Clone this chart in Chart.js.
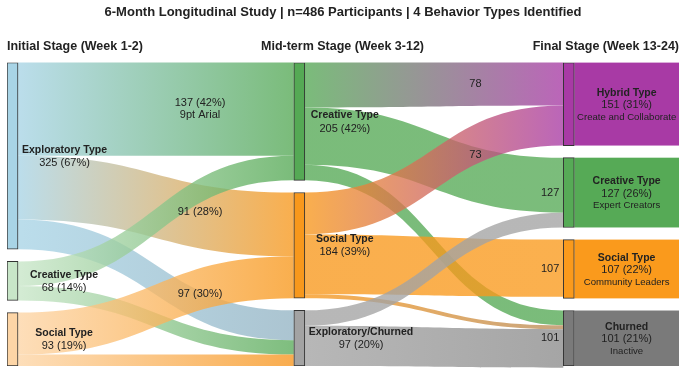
<!DOCTYPE html>
<html>
<head>
<meta charset="utf-8">
<script src="https://cdn.jsdelivr.net/npm/chart.js@4.4.0/dist/chart.umd.min.js"></script>
<style>
  html, body { margin: 0; padding: 0; background: #fff; }
</style>
</head>
<body>
<canvas id="sankey" width="685" height="373"></canvas>
<script>
const FONT = "'Liberation Sans', Arial, Helvetica, sans-serif";

// ---- data ----
const chartTitle = '6-Month Longitudinal Study | n=486 Participants | 4 Behavior Types Identified';
const stageNames = ['Initial Stage (Week 1-2)', 'Mid-term Stage (Week 3-12)', 'Final Stage (Week 13-24)'];

const initialTypes = ['Exploratory Type', 'Creative Type', 'Social Type'];
const initialCounts = [325, 68, 93];
const initialShares = ['67%', '14%', '19%'];

const midTypes = ['Creative Type', 'Social Type', 'Exploratory/Churned'];
const midCounts = [205, 184, 97];
const midShares = ['42%', '39%', '20%'];

const finalTypes = ['Hybrid Type', 'Creative Type', 'Social Type', 'Churned'];
const finalCounts = [151, 127, 107, 101];
const finalShares = ['31%', '26%', '22%', '21%'];
const finalNotes = ['Create and Collaborate', 'Expert Creators', 'Community Leaders', 'Inactive'];
const finalInLabels = ['', '127', '107', '101'];

// initial -> mid-term transitions
const earlyFrom = [0, 0, 0, 1, 1, 2, 2];
const earlyTo = [0, 1, 2, 0, 2, 1, 2];
const earlyValues = [162, 111, 52, 43, 25, 73, 20];
const earlyLabels = [['137 (42%)', '9pt Arial'], ['91 (28%)'], ['97 (30%)'], [], [], [], []];

// mid-term -> final transitions
const lateFrom = [0, 0, 0, 1, 1, 1, 2, 2];
const lateTo = [0, 1, 3, 0, 2, 3, 1, 3];
const lateValues = [78, 100, 27, 73, 104, 7, 27, 70];
const lateLabels = [['78'], [], [], ['73'], [], [], [], []];

// ---- style ----
const initialColors = ['#a8d4e6', '#c8e6c8', '#fdd5a6'];
const initialTints = ['#94b4c4', '#5aab5a', '#f7951d'];
const midColors = ['#55a955', '#f8981c', '#a3a3a3'];
const midTints = ['#55a955', '#b98d5c', '#8c8c8c'];
const finalColors = ['#a83aa5', '#56aa56', '#fa9a1c', '#7a7a7a'];

const STAGE_X = [0.82, 43.5, 83.6];   // column centres on the 0..100 x scale
const NODE_W = 11;
const Y_MAX = 1000;
const GAP = 40;
const FLOW_ALPHA = 0.78;
const TEXT = '#222';

// ---- layout ----
const columns = [
  {names: initialTypes, counts: initialCounts, shares: initialShares, colors: initialColors, tints: initialTints},
  {names: midTypes, counts: midCounts, shares: midShares, colors: midColors, tints: midTints},
  {names: finalTypes, counts: finalCounts, shares: finalShares, colors: finalColors, tints: finalColors, notes: finalNotes},
];

columns.forEach((col, c) => {
  const total = col.counts.reduce((a, b) => a + b, 0);
  const k = (Y_MAX - (col.counts.length - 1) * GAP) / total;
  let y = 0;
  col.nodes = col.counts.map((v, i) => {
    const node = {c, i, y0: y, y1: y + v * k, k, outOff: 0, inOff: 0};
    y = node.y1 + GAP;
    return node;
  });
});

function build_flows(c, from, to, values, labels) {
  const src = columns[c], tgt = columns[c + 1];
  const flows = from.map((f, j) => ({f, t: to[j], v: values[j], label: labels[j]}));
  // stack at source by target order, at target by source order
  [...flows].sort((a, b) => a.f - b.f || a.t - b.t).forEach(fl => {
    const n = src.nodes[fl.f];
    fl.sy0 = n.y0 + n.outOff * n.k;
    fl.sy1 = fl.sy0 + fl.v * n.k;
    n.outOff += fl.v;
  });
  [...flows].sort((a, b) => a.t - b.t || a.f - b.f).forEach(fl => {
    const n = tgt.nodes[fl.t];
    fl.ty0 = n.y0 + n.inOff * n.k;
    fl.ty1 = fl.ty0 + fl.v * n.k;
    n.inOff += fl.v;
  });
  const churnTarget = tgt.names.length - 1;
  const churnSource = src.names.length - 1;
  flows.forEach(fl => {
    fl.c = c;
    fl.fromColor = src.colors[fl.f];
    if (fl.t === churnTarget) fl.toColor = src.tints[fl.f];
    else if (c > 0 && fl.f === churnSource) fl.toColor = src.colors[fl.f];
    else fl.toColor = tgt.colors[fl.t];
  });
  return flows;
}

const flows = [
  ...build_flows(0, earlyFrom, earlyTo, earlyValues, earlyLabels),
  ...build_flows(1, lateFrom, lateTo, lateValues, lateLabels),
];

const allNodes = columns.flatMap(col => col.nodes);

// ---- drawing helpers ----
function px(chart, c) { return chart.scales.x.getPixelForValue(STAGE_X[c]); }
function py(chart, v) { return chart.scales.y.getPixelForValue(v); }

function text(ctx, str, x, y, font, align) {
  ctx.font = font;
  ctx.textAlign = align || 'center';
  ctx.textBaseline = 'middle';
  ctx.fillStyle = TEXT;
  ctx.fillText(str, x, y);
}

const sankeyPlugin = {
  id: 'sankeyFlows',
  beforeDatasetsDraw(chart) {
    const ctx = chart.ctx;
    ctx.save();
    ctx.globalAlpha = FLOW_ALPHA;
    flows.forEach(fl => {
      const xs = px(chart, fl.c) + NODE_W / 2;
      const xt = px(chart, fl.c + 1) - NODE_W / 2;
      const xm = (xs + xt) / 2;
      const s0 = py(chart, fl.sy0), s1 = py(chart, fl.sy1);
      const t0 = py(chart, fl.ty0), t1 = py(chart, fl.ty1);
      const grad = ctx.createLinearGradient(xs, 0, xt, 0);
      grad.addColorStop(0, fl.fromColor);
      grad.addColorStop(1, fl.toColor);
      ctx.fillStyle = grad;
      ctx.beginPath();
      ctx.moveTo(xs, s0);
      ctx.bezierCurveTo(xm, s0, xm, t0, xt, t0);
      ctx.lineTo(xt, t1);
      ctx.bezierCurveTo(xm, t1, xm, s1, xs, s1);
      ctx.closePath();
      ctx.fill();
    });
    ctx.restore();

    // coloured label boxes right of the final nodes
    const area = chart.chartArea;
    const right = px(chart, 2) + NODE_W / 2;
    columns[2].nodes.forEach((n, i) => {
      ctx.fillStyle = finalColors[i];
      const top = py(chart, n.y0);
      ctx.fillRect(right, top, area.right - right, py(chart, n.y1) - top);
    });
  },
  afterDatasetsDraw(chart) {
    const ctx = chart.ctx;
    const area = chart.chartArea;
    const bold = `bold 10.5px ${FONT}`;
    const reg = `11px ${FONT}`;
    const small = `9.6px ${FONT}`;

    // stage headers
    const hy = area.top - 16;
    const hf = `bold 12.5px ${FONT}`;
    text(ctx, stageNames[0], area.left, hy, hf, 'left');
    text(ctx, stageNames[1], chart.width / 2, hy, hf, 'center');
    text(ctx, stageNames[2], area.right, hy, hf, 'right');

    // node labels
    columns.forEach((col, c) => {
      col.nodes.forEach((n, i) => {
        const yc = (py(chart, n.y0) + py(chart, n.y1)) / 2;
        const nodeRight = px(chart, c) + NODE_W / 2;
        const valueLine = `${col.counts[i]} (${col.shares[i]})`;
        if (c === 2) {
          const xc = (nodeRight + area.right) / 2;
          text(ctx, col.names[i], xc, yc - 11, bold);
          text(ctx, valueLine, xc, yc + 1, reg);
          text(ctx, col.notes[i], xc, yc + 13, small);
          if (finalInLabels[i]) {
            text(ctx, finalInLabels[i], px(chart, c) - NODE_W / 2 - 4, yc, reg, 'right');
          }
        } else {
          ctx.font = bold;
          const w = ctx.measureText(col.names[i]).width;
          let xc = nodeRight + (c === 0 ? 46 : 40);
          xc = Math.max(xc, nodeRight + 4 + w / 2);
          text(ctx, col.names[i], xc, yc - 6, bold);
          text(ctx, valueLine, xc, yc + 7, reg);
        }
      });
    });

    // flow labels
    flows.forEach(fl => {
      if (!fl.label.length) return;
      const xs = px(chart, fl.c) + NODE_W / 2;
      const xt = px(chart, fl.c + 1) - NODE_W / 2;
      const f = 0.66;
      const sc = (py(chart, fl.sy0) + py(chart, fl.sy1)) / 2;
      const tc = (py(chart, fl.ty0) + py(chart, fl.ty1)) / 2;
      const x = xs + (xt - xs) * f;
      const y = sc + (tc - sc) * f;
      const lines = fl.label;
      lines.forEach((line, k) => {
        text(ctx, line, x, y + (k - (lines.length - 1) / 2) * 12, reg);
      });
    });
  }
};

new Chart(document.getElementById('sankey'), {
  type: 'bar',
  data: {
    datasets: [{
      data: allNodes.map(n => ({x: STAGE_X[n.c], y: [n.y0, n.y1]})),
      backgroundColor: allNodes.map(n => columns[n.c].colors[n.i]),
      borderColor: '#333',
      borderWidth: 1,
      borderSkipped: false,
      barThickness: NODE_W,
    }]
  },
  options: {
    responsive: false,
    animation: false,
    devicePixelRatio: 1,
    events: [],
    layout: {padding: {left: 7, right: 6, top: 0, bottom: 7}},
    scales: {
      x: {type: 'linear', min: 0, max: 100, display: false, offset: false},
      y: {type: 'linear', min: 0, max: Y_MAX, reverse: true, display: false},
    },
    plugins: {
      legend: {display: false},
      tooltip: {enabled: false},
      title: {
        display: true,
        text: chartTitle,
        color: TEXT,
        font: {family: FONT, size: 13, weight: 'bold'},
        padding: {top: 5, bottom: 42},
      },
    },
  },
  plugins: [sankeyPlugin],
});
</script>
</body>
</html>
